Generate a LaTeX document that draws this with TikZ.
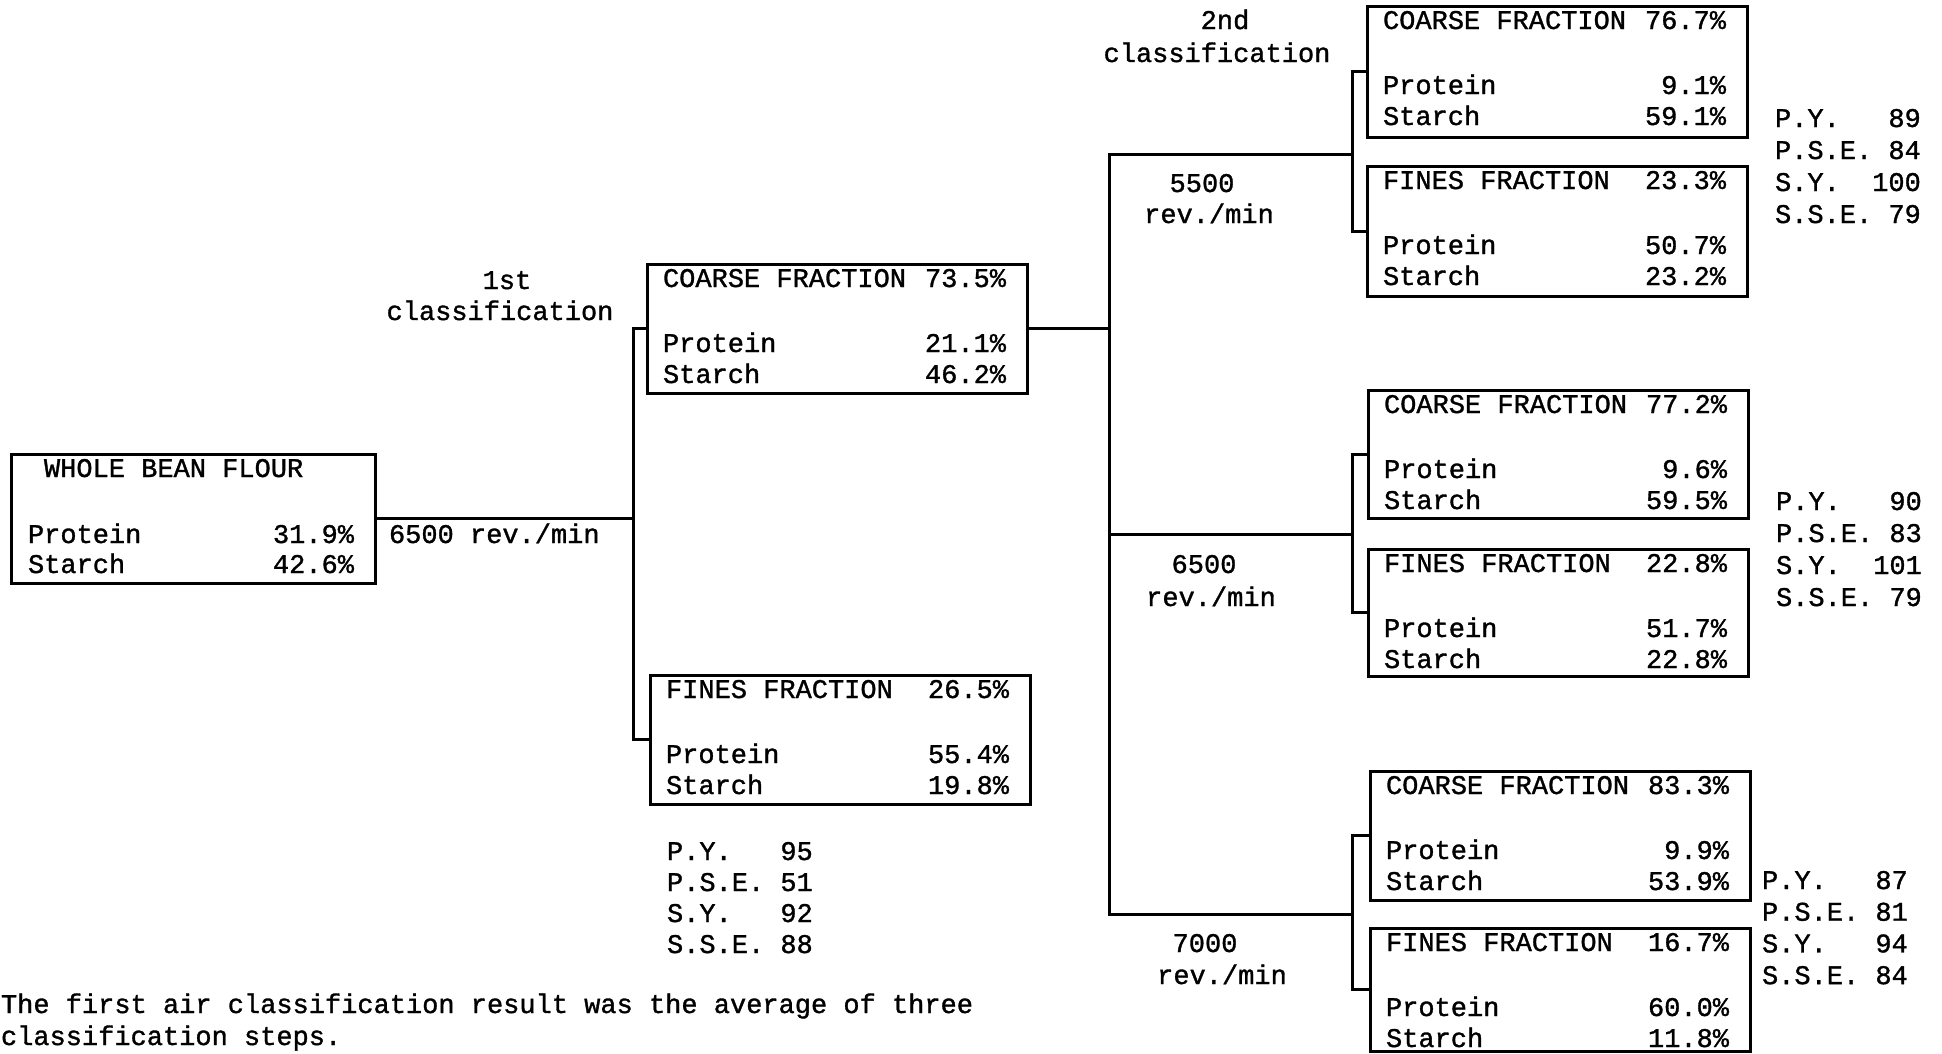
\documentclass[tikz,border=0pt]{standalone}
\usepackage{fontspec}
\setmainfont{Liberation Mono}[UprightFeatures={FakeBold=1.2}]
\tikzset{
 box/.style={draw, line width=3pt, inner sep=0pt, outer sep=0pt, minimum width=380pt, anchor=north west},
 ln/.style={line width=3pt},
 txt/.style={inner sep=0pt, outer sep=0pt, font=\fontsize{27}{31}\selectfont},
}
\newcommand\fracbox[8]{%
  \node[box, minimum height=#4pt] (#1) at (#2,#3) {};
  \node[txt, anchor=base west] (#1-t) at ([shift={(16,23)}]#1.north west) {#5};
  \node[txt, anchor=base east] (#1-p) at ([shift={(-21,23)}]#1.north east) {#6};
  \node[txt, anchor=base west] (#1-pl) at ([shift={(16,88)}]#1.north west) {Protein};
  \node[txt, anchor=base east] (#1-pv) at ([shift={(-21,88)}]#1.north east) {#7};
  \node[txt, anchor=base west] (#1-sl) at ([shift={(16,119)}]#1.north west) {Starch};
  \node[txt, anchor=base east] (#1-sv) at ([shift={(-21,119)}]#1.north east) {#8};
}
\newcommand\statblock[8]{%
  \node[txt, anchor=base west] (#1-1) at (#2,#3) {#5};
  \node[txt, anchor=base west] (#1-2) at (#2,#3+#4) {#6};
  \node[txt, anchor=base west] (#1-3) at (#2,#3+2*#4) {#7};
  \node[txt, anchor=base west] (#1-4) at (#2,#3+3*#4) {#8};
}
\begin{document}
\begin{tikzpicture}[x=1pt,y=-1pt]
\useasboundingbox (0,0) rectangle (1942,1053);

% whole bean flour
\node[box, minimum width=364pt, minimum height=129pt] (wbf) at (11,454) {};
\node[txt, anchor=base west] (wbf-t) at (44,477) {WHOLE BEAN FLOUR};
\node[txt, anchor=base west] (wbf-pl) at (28,543) {Protein};
\node[txt, anchor=base east] (wbf-pv) at (354,543) {31.9\%};
\node[txt, anchor=base west] (wbf-sl) at (28,573) {Starch};
\node[txt, anchor=base east] (wbf-sv) at (354,573) {42.6\%};

% first classification
\fracbox{c1}{647}{264}{129}{COARSE FRACTION}{73.5\%}{21.1\%}{46.2\%}
\fracbox{f1}{650}{675}{129}{FINES FRACTION}{26.5\%}{55.4\%}{19.8\%}

% second classification
\fracbox{c2a}{1367}{6}{131}{COARSE FRACTION}{76.7\%}{9.1\%}{59.1\%}
\fracbox{f2a}{1367}{166}{130}{FINES FRACTION}{23.3\%}{50.7\%}{23.2\%}
\fracbox{c2b}{1368}{390}{128}{COARSE FRACTION}{77.2\%}{9.6\%}{59.5\%}
\fracbox{f2b}{1368}{549}{127}{FINES FRACTION}{22.8\%}{51.7\%}{22.8\%}
\fracbox{c2c}{1370}{771}{129}{COARSE FRACTION}{83.3\%}{9.9\%}{53.9\%}
\fracbox{f2c}{1370}{928}{123}{FINES FRACTION}{16.7\%}{60.0\%}{11.8\%}

% connectors
\coordinate (b1) at (633,0);
\coordinate (mx) at (1109,0);
\coordinate (h1) at (1352,154);
\coordinate (h2) at (1352,534);
\coordinate (h3) at (1352,914);
\draw[ln] (wbf.east) -- (wbf.east -| b1);
\draw[ln] (c1.west) -- (c1.west -| b1) -- (f1.west -| b1) -- (f1.west);
\draw[ln] (c1.east) -- (c1.east -| mx);
\draw[ln] (h1) -- (h1 -| mx) -- (h3 -| mx) -- (h3);
\draw[ln] (h2 -| mx) -- (h2);
\draw[ln] (c2a.west) -- (c2a.west -| h1) -- (f2a.west -| h1) -- (f2a.west);
\draw[ln] (c2b.west) -- (c2b.west -| h2) -- (f2b.west -| h2) -- (f2b.west);
\draw[ln] (c2c.west) -- (c2c.west -| h3) -- (f2c.west -| h3) -- (f2c.west);

% labels
\node[txt, anchor=base] (l1a) at (507,289) {1st};
\node[txt, anchor=base] (l1b) at (500,320) {classification};
\node[txt, anchor=base west] (r0) at (389,543) {6500 rev./min};
\node[txt, anchor=base] (l2a) at (1225,29) {2nd};
\node[txt, anchor=base] (l2b) at (1217,62) {classification};
\node[txt, anchor=base] (s1a) at (1202,192) {5500};
\node[txt, anchor=base] (s1b) at (1209,223) {rev./min};
\node[txt, anchor=base] (s2a) at (1204,573) {6500};
\node[txt, anchor=base] (s2b) at (1211,606) {rev./min};
\node[txt, anchor=base] (s3a) at (1205,952) {7000};
\node[txt, anchor=base] (s3b) at (1222,984) {rev./min};

% stats
\statblock{st1}{667}{860}{31}{P.Y.\ \ \ 95}{P.S.E.\ 51}{S.Y.\ \ \ 92}{S.S.E.\ 88}
\statblock{st2}{1775}{127}{32}{P.Y.\ \ \ 89}{P.S.E.\ 84}{S.Y.\ \ 100}{S.S.E.\ 79}
\statblock{st3}{1776}{510}{32}{P.Y.\ \ \ 90}{P.S.E.\ 83}{S.Y.\ \ 101}{S.S.E.\ 79}
\statblock{st4}{1762}{889}{31.7}{P.Y.\ \ \ 87}{P.S.E.\ 81}{S.Y.\ \ \ 94}{S.S.E.\ 84}

% footnote
\node[txt, anchor=base west] (fn1) at (1,1013) {The first air classification result was the average of three};
\node[txt, anchor=base west] (fn2) at (1,1045) {classification steps.};
\end{tikzpicture}
\end{document}
